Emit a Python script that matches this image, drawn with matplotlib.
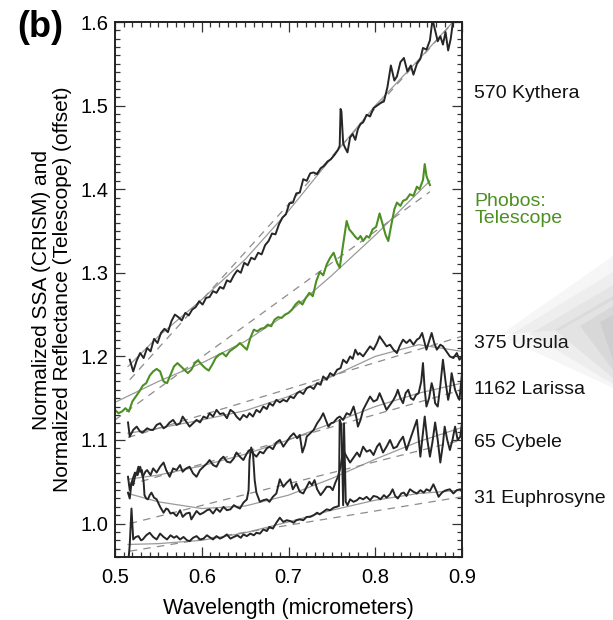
import matplotlib
matplotlib.use('Agg')
import matplotlib.pyplot as plt
from matplotlib.ticker import MultipleLocator
from matplotlib.patches import Polygon

plt.rcParams['font.family'] = ['Liberation Sans', 'DejaVu Sans']

# ---- spectra (wavelength in micrometers, offset reflectance) ----
wl_kythera = [0.517, 0.521, 0.525, 0.529, 0.533, 0.537, 0.541, 0.545, 0.549, 0.553,
              0.557, 0.561, 0.565, 0.569, 0.573, 0.577, 0.581, 0.585, 0.589, 0.593,
              0.597, 0.601, 0.605, 0.609, 0.613, 0.617, 0.621, 0.625, 0.629, 0.633,
              0.637, 0.641, 0.645, 0.649, 0.653, 0.657, 0.661, 0.665, 0.669, 0.673,
              0.677, 0.681, 0.685, 0.689, 0.693, 0.697, 0.701, 0.705, 0.709, 0.713,
              0.717, 0.721, 0.725, 0.729, 0.733, 0.737, 0.741, 0.745, 0.749, 0.753,
              0.757, 0.759, 0.760, 0.761, 0.763, 0.765, 0.768, 0.771, 0.774, 0.777,
              0.780, 0.783, 0.786, 0.790, 0.794, 0.798, 0.802, 0.806, 0.810, 0.814,
              0.818, 0.822, 0.825, 0.829, 0.833, 0.837, 0.841, 0.844, 0.848, 0.852,
              0.855, 0.859, 0.863, 0.866, 0.869, 0.872, 0.875, 0.878, 0.881, 0.884,
              0.887, 0.890, 0.893]
r_kythera = [1.196, 1.182, 1.195, 1.204, 1.198, 1.210, 1.206, 1.221, 1.216, 1.228,
             1.233, 1.229, 1.242, 1.250, 1.247, 1.243, 1.252, 1.249, 1.256, 1.259,
             1.266, 1.262, 1.270, 1.271, 1.278, 1.276, 1.283, 1.281, 1.291, 1.289,
             1.297, 1.303, 1.300, 1.312, 1.309, 1.318, 1.316, 1.324, 1.322, 1.333,
             1.338, 1.347, 1.346, 1.358, 1.366, 1.370, 1.383, 1.384, 1.395, 1.396,
             1.412, 1.410, 1.419, 1.420, 1.418, 1.425, 1.428, 1.433, 1.436, 1.441,
             1.447, 1.452, 1.496, 1.493, 1.455, 1.450, 1.444, 1.462, 1.466, 1.459,
             1.472, 1.478, 1.480, 1.489, 1.487, 1.497, 1.500, 1.503, 1.505, 1.522,
             1.548, 1.530, 1.535, 1.552, 1.557, 1.541, 1.548, 1.537, 1.550, 1.556,
             1.569, 1.567, 1.578, 1.603, 1.590, 1.577, 1.583, 1.573, 1.588, 1.566,
             1.580, 1.604, 1.610]

wl_phobos = [0.500, 0.504, 0.508, 0.512, 0.516, 0.520, 0.524, 0.528, 0.532, 0.536,
             0.540, 0.544, 0.548, 0.552, 0.556, 0.560, 0.564, 0.568, 0.572, 0.576,
             0.580, 0.584, 0.588, 0.592, 0.596, 0.600, 0.604, 0.608, 0.612, 0.616,
             0.620, 0.624, 0.628, 0.632, 0.636, 0.640, 0.644, 0.648, 0.652, 0.656,
             0.660, 0.664, 0.668, 0.672, 0.676, 0.680, 0.684, 0.688, 0.692, 0.696,
             0.700, 0.704, 0.708, 0.712, 0.716, 0.720, 0.724, 0.728, 0.732, 0.736,
             0.740, 0.744, 0.748, 0.752, 0.756, 0.759, 0.763, 0.767, 0.770, 0.774,
             0.777, 0.780, 0.783, 0.786, 0.790, 0.793, 0.797, 0.801, 0.805, 0.808,
             0.812, 0.815, 0.819, 0.822, 0.825, 0.829, 0.832, 0.836, 0.840, 0.844,
             0.848, 0.851, 0.855, 0.857, 0.859, 0.861, 0.863]
r_phobos = [1.136, 1.132, 1.134, 1.138, 1.134, 1.146, 1.152, 1.158, 1.165, 1.168,
            1.177, 1.182, 1.185, 1.182, 1.170, 1.168, 1.178, 1.188, 1.192, 1.188,
            1.184, 1.180, 1.184, 1.192, 1.195, 1.190, 1.186, 1.183, 1.190, 1.198,
            1.202, 1.204, 1.200, 1.206, 1.209, 1.212, 1.216, 1.212, 1.208, 1.222,
            1.232, 1.230, 1.233, 1.234, 1.238, 1.236, 1.244, 1.247, 1.246, 1.250,
            1.252, 1.256, 1.262, 1.266, 1.262, 1.270, 1.276, 1.272, 1.290, 1.301,
            1.297, 1.310, 1.318, 1.324, 1.312, 1.306, 1.334, 1.362, 1.352, 1.347,
            1.343, 1.340, 1.344, 1.338, 1.344, 1.342, 1.352, 1.355, 1.371, 1.360,
            1.345, 1.338, 1.360, 1.376, 1.384, 1.380, 1.386, 1.388, 1.394, 1.392,
            1.403, 1.400, 1.411, 1.430, 1.416, 1.410, 1.405]

wl_ursula = [0.515, 0.517, 0.521, 0.525, 0.529, 0.532, 0.537, 0.541, 0.544, 0.548,
             0.552, 0.556, 0.559, 0.563, 0.567, 0.571, 0.575, 0.578, 0.582, 0.586,
             0.590, 0.594, 0.598, 0.602, 0.606, 0.609, 0.613, 0.617, 0.621, 0.625,
             0.629, 0.633, 0.637, 0.640, 0.644, 0.648, 0.652, 0.655, 0.659, 0.663,
             0.667, 0.671, 0.675, 0.678, 0.682, 0.686, 0.690, 0.694, 0.698, 0.702,
             0.706, 0.710, 0.713, 0.717, 0.721, 0.725, 0.729, 0.733, 0.737, 0.740,
             0.744, 0.748, 0.752, 0.756, 0.760, 0.763, 0.767, 0.771, 0.774, 0.777,
             0.780, 0.782, 0.786, 0.790, 0.794, 0.798, 0.802, 0.805, 0.809, 0.813,
             0.817, 0.821, 0.825, 0.828, 0.832, 0.836, 0.840, 0.844, 0.848, 0.851,
             0.854, 0.857, 0.859, 0.862, 0.865, 0.868, 0.871, 0.875, 0.878, 0.882,
             0.886, 0.890, 0.894, 0.897, 0.900]
r_ursula = [1.121, 1.104, 1.112, 1.116, 1.110, 1.109, 1.114, 1.112, 1.112, 1.118,
            1.120, 1.114, 1.116, 1.121, 1.124, 1.118, 1.120, 1.128, 1.122, 1.116,
            1.120, 1.124, 1.121, 1.128, 1.126, 1.132, 1.128, 1.136, 1.131, 1.132,
            1.126, 1.136, 1.133, 1.128, 1.124, 1.130, 1.127, 1.132, 1.128, 1.136,
            1.133, 1.140, 1.137, 1.144, 1.141, 1.148, 1.145, 1.148, 1.146, 1.152,
            1.150, 1.156, 1.158, 1.155, 1.162, 1.164, 1.161, 1.168, 1.166, 1.176,
            1.172, 1.180, 1.177, 1.184, 1.186, 1.196, 1.192, 1.200, 1.197, 1.208,
            1.202, 1.204, 1.200, 1.206, 1.212, 1.208, 1.216, 1.224, 1.218, 1.212,
            1.214, 1.208, 1.204, 1.212, 1.220, 1.216, 1.220, 1.214, 1.220, 1.222,
            1.228, 1.216, 1.208, 1.218, 1.228, 1.216, 1.208, 1.214, 1.212, 1.206,
            1.200, 1.198, 1.204, 1.196, 1.200]

wl_larissa = [0.515, 0.517, 0.520, 0.523, 0.526, 0.529, 0.532, 0.535, 0.537, 0.541,
              0.544, 0.548, 0.552, 0.556, 0.559, 0.563, 0.567, 0.571, 0.575, 0.578,
              0.582, 0.586, 0.590, 0.594, 0.598, 0.602, 0.606, 0.609, 0.613, 0.617,
              0.621, 0.625, 0.629, 0.633, 0.637, 0.640, 0.644, 0.648, 0.652, 0.655,
              0.659, 0.663, 0.667, 0.671, 0.675, 0.678, 0.682, 0.686, 0.690, 0.694,
              0.698, 0.702, 0.706, 0.710, 0.713, 0.716, 0.719, 0.721, 0.725, 0.729,
              0.733, 0.737, 0.740, 0.743, 0.746, 0.749, 0.752, 0.756, 0.759, 0.763,
              0.767, 0.771, 0.775, 0.778, 0.780, 0.783, 0.786, 0.790, 0.794, 0.798,
              0.802, 0.805, 0.809, 0.813, 0.817, 0.821, 0.824, 0.826, 0.829, 0.832,
              0.835, 0.838, 0.841, 0.844, 0.847, 0.850, 0.853, 0.855, 0.857, 0.859,
              0.862, 0.865, 0.867, 0.869, 0.872, 0.875, 0.878, 0.881, 0.884, 0.886,
              0.888, 0.890, 0.892, 0.895, 0.897, 0.900]
r_larissa = [1.056, 1.040, 1.052, 1.061, 1.058, 1.068, 1.056, 1.062, 1.064, 1.058,
             1.066, 1.061, 1.068, 1.073, 1.064, 1.056, 1.066, 1.064, 1.070, 1.062,
             1.066, 1.068, 1.060, 1.056, 1.064, 1.068, 1.072, 1.076, 1.070, 1.068,
             1.076, 1.080, 1.074, 1.073, 1.078, 1.085, 1.080, 1.076, 1.084, 1.088,
             1.084, 1.080, 1.086, 1.084, 1.090, 1.092, 1.089, 1.097, 1.100, 1.092,
             1.098, 1.104, 1.108, 1.102, 1.106, 1.085, 1.094, 1.104, 1.108, 1.112,
             1.120, 1.126, 1.132, 1.124, 1.116, 1.120, 1.121, 1.126, 1.128, 1.124,
             1.132, 1.130, 1.140, 1.128, 1.116, 1.124, 1.136, 1.144, 1.152, 1.146,
             1.148, 1.156, 1.146, 1.136, 1.142, 1.148, 1.154, 1.160, 1.150, 1.144,
             1.156, 1.160, 1.150, 1.148, 1.154, 1.156, 1.170, 1.192, 1.160, 1.140,
             1.150, 1.168, 1.160, 1.144, 1.140, 1.165, 1.196, 1.170, 1.148, 1.158,
             1.180, 1.170, 1.160, 1.152, 1.148, 1.180]

wl_cybele = [0.515, 0.517, 0.519, 0.521, 0.523, 0.525, 0.527, 0.529, 0.531, 0.533,
             0.534, 0.536, 0.538, 0.540, 0.542, 0.545, 0.548, 0.552, 0.556, 0.559,
             0.561, 0.564, 0.567, 0.571, 0.575, 0.578, 0.582, 0.586, 0.588, 0.591,
             0.594, 0.598, 0.602, 0.606, 0.609, 0.613, 0.617, 0.621, 0.625, 0.629,
             0.633, 0.637, 0.640, 0.644, 0.648, 0.652, 0.654, 0.655, 0.657, 0.659,
             0.661, 0.663, 0.667, 0.671, 0.675, 0.678, 0.682, 0.686, 0.690, 0.694,
             0.698, 0.702, 0.705, 0.709, 0.713, 0.717, 0.721, 0.724, 0.727, 0.730,
             0.733, 0.737, 0.740, 0.744, 0.748, 0.751, 0.754, 0.757, 0.760, 0.763,
             0.767, 0.771, 0.775, 0.779, 0.782, 0.786, 0.790, 0.794, 0.798, 0.802,
             0.805, 0.809, 0.813, 0.817, 0.821, 0.825, 0.828, 0.832, 0.836, 0.840,
             0.844, 0.848, 0.852, 0.857, 0.860, 0.863, 0.866, 0.869, 0.872, 0.875,
             0.878, 0.880, 0.883, 0.886, 0.889, 0.892, 0.895, 0.898, 0.900]
r_cybele = [1.037, 1.030, 1.049, 1.046, 1.056, 1.060, 1.068, 1.062, 1.064, 1.050,
            1.034, 1.030, 1.029, 1.034, 1.037, 1.031, 1.029, 1.020, 1.013, 1.018,
            1.017, 1.012, 1.013, 1.009, 1.016, 1.008, 1.012, 1.013, 1.005, 1.010,
            1.015, 1.011, 1.013, 1.016, 1.017, 1.012, 1.018, 1.014, 1.020, 1.016,
            1.017, 1.022, 1.020, 1.018, 1.025, 1.029, 1.040, 1.076, 1.091, 1.085,
            1.052, 1.037, 1.026, 1.028, 1.029, 1.026, 1.032, 1.036, 1.053, 1.044,
            1.049, 1.053, 1.041, 1.048, 1.038, 1.036, 1.044, 1.050, 1.046, 1.052,
            1.041, 1.034, 1.038, 1.044, 1.044, 1.040, 1.049, 1.056, 1.068, 1.088,
            1.080, 1.073, 1.079, 1.085, 1.080, 1.092, 1.086, 1.088, 1.082, 1.092,
            1.096, 1.085, 1.092, 1.100, 1.090, 1.092, 1.098, 1.104, 1.088, 1.100,
            1.112, 1.124, 1.080, 1.128, 1.100, 1.080, 1.098, 1.121, 1.100, 1.073,
            1.095, 1.116, 1.100, 1.088, 1.100, 1.116, 1.100, 1.104, 1.121]

wl_euphrosyne = [0.514, 0.516, 0.517, 0.519, 0.521, 0.524, 0.527, 0.530, 0.532, 0.536,
                 0.540, 0.544, 0.548, 0.552, 0.556, 0.560, 0.564, 0.568, 0.571, 0.575,
                 0.579, 0.583, 0.586, 0.590, 0.594, 0.598, 0.602, 0.606, 0.610, 0.613,
                 0.617, 0.621, 0.625, 0.629, 0.633, 0.637, 0.641, 0.645, 0.648, 0.652,
                 0.656, 0.660, 0.663, 0.667, 0.671, 0.675, 0.678, 0.682, 0.686, 0.690,
                 0.694, 0.698, 0.702, 0.706, 0.709, 0.713, 0.717, 0.721, 0.725, 0.729,
                 0.733, 0.736, 0.740, 0.744, 0.748, 0.752, 0.755, 0.758, 0.759, 0.761,
                 0.763, 0.764, 0.766, 0.768, 0.771, 0.775, 0.779, 0.782, 0.786, 0.790,
                 0.794, 0.798, 0.802, 0.806, 0.810, 0.813, 0.817, 0.820, 0.823, 0.826,
                 0.830, 0.833, 0.836, 0.840, 0.844, 0.848, 0.852, 0.856, 0.859, 0.863,
                 0.867, 0.870, 0.873, 0.876, 0.878, 0.882, 0.886, 0.890, 0.894, 0.898,
                 0.900]
r_euphrosyne = [0.950, 0.962, 0.975, 1.018, 0.981, 0.984, 0.985, 0.980, 0.981, 0.986,
                0.989, 0.984, 0.981, 0.988, 0.984, 0.981, 0.986, 0.983, 0.985, 0.981,
                0.984, 0.980, 0.979, 0.983, 0.985, 0.981, 0.982, 0.986, 0.983, 0.981,
                0.985, 0.982, 0.984, 0.987, 0.982, 0.984, 0.986, 0.983, 0.987, 0.985,
                0.988, 0.986, 0.989, 0.988, 0.993, 0.991, 0.996, 0.994, 1.001, 1.007,
                1.002, 1.004, 1.003, 1.001, 1.004, 1.005, 1.004, 1.008, 1.008, 1.010,
                1.013, 1.011, 1.014, 1.017, 1.016, 1.019, 1.020, 1.021, 1.124, 1.118,
                1.022, 1.120, 1.026, 1.022, 1.029, 1.026, 1.028, 1.031, 1.029, 1.032,
                1.028, 1.033, 1.032, 1.029, 1.034, 1.031, 1.035, 1.041, 1.033, 1.030,
                1.036, 1.037, 1.033, 1.041, 1.038, 1.036, 1.040, 1.037, 1.041, 1.039,
                1.047, 1.040, 1.032, 1.036, 1.038, 1.040, 1.041, 1.036, 1.040, 1.041,
                1.038]

# ---- fitted continua (solid grey curves) ----
fit_wl = [0.515, 0.55, 0.60, 0.65, 0.70, 0.75, 0.80, 0.85, 0.90]
fit_kythera = [1.188, 1.224, 1.268, 1.316, 1.374, 1.438, 1.500, 1.555, 1.612]
fit_ursula = [1.108, 1.114, 1.124, 1.135, 1.152, 1.176, 1.200, 1.214, 1.206]
fit_larissa = [1.053, 1.058, 1.069, 1.083, 1.100, 1.120, 1.140, 1.156, 1.168]
fit_cybele = [1.036, 1.026, 1.018, 1.021, 1.034, 1.054, 1.077, 1.098, 1.115]
fit_euphrosyne = [0.975, 0.976, 0.980, 0.989, 1.002, 1.016, 1.028, 1.036, 1.040]
fit_wl_phobos = [0.50, 0.55, 0.60, 0.65, 0.70, 0.75, 0.80, 0.863]
fit_phobos = [1.145, 1.170, 1.192, 1.218, 1.252, 1.297, 1.345, 1.410]

# ---- straight-line continua (dashed), given by end points ----
dash_kythera = ([0.517, 0.890], [1.172, 1.600])
dash_phobos = ([0.500, 0.863], [1.124, 1.397])
dash_ursula = ([0.515, 0.900], [1.103, 1.224])
dash_larissa = ([0.515, 0.900], [1.046, 1.160])
dash_cybele = ([0.517, 0.900], [1.000, 1.100])
dash_euphrosyne = ([0.517, 0.900], [0.967, 1.032])

labels = ['570 Kythera', 'Phobos:\nTelescope', '375 Ursula', '1162 Larissa',
          '65 Cybele', '31 Euphrosyne']
label_y = [1.515, 1.375, 1.215, 1.160, 1.097, 1.030]

dark = '#262626'
green = '#4c8f22'
fitc = '#9a9a9a'

fig = plt.figure(figsize=(6.13, 6.20), dpi=100)

# faint grey slide swoosh on the right-hand side (pixel corners -> figure fraction)
W, H = 613.0, 620.0
swoosh = [([(500, 335), (613, 256), (613, 300), (560, 330)], 0.05),
          ([(505, 338), (613, 272), (613, 388)], 0.05),
          ([(530, 334), (613, 285), (613, 384)], 0.06),
          ([(555, 330), (613, 296), (613, 378)], 0.07),
          ([(580, 326), (613, 306), (613, 370)], 0.08),
          ([(600, 322), (613, 315), (613, 360)], 0.08)]
for pts, a in swoosh:
    fig.patches.append(Polygon([(px / W, 1 - py / H) for px, py in pts], closed=True,
                               transform=fig.transFigure, facecolor='#606060',
                               edgecolor='none', alpha=a, zorder=0))

ax = fig.add_axes([0.1876, 0.1016, 0.5661, 0.8629])

# continua first so spectra sit on top
for fw, fy in [(fit_wl, fit_kythera), (fit_wl_phobos, fit_phobos), (fit_wl, fit_ursula),
               (fit_wl, fit_larissa), (fit_wl, fit_cybele), (fit_wl, fit_euphrosyne)]:
    ax.plot(fw, fy, color=fitc, lw=0.9)
for dx, dy in [dash_kythera, dash_phobos, dash_ursula, dash_larissa, dash_cybele, dash_euphrosyne]:
    ax.plot(dx, dy, color='#8c8c8c', lw=0.9, ls=(0, (6, 5)))

for wl, r in [(wl_kythera, r_kythera), (wl_ursula, r_ursula), (wl_larissa, r_larissa),
              (wl_cybele, r_cybele), (wl_euphrosyne, r_euphrosyne)]:
    ax.plot(wl, r, color=dark, lw=1.4)
ax.plot(wl_phobos, r_phobos, color=green, lw=1.5)

ax.set_xlim(0.5, 0.9)
ax.set_ylim(0.96, 1.6)
ax.xaxis.set_major_locator(MultipleLocator(0.1))
ax.xaxis.set_minor_locator(MultipleLocator(0.01))
ax.yaxis.set_major_locator(MultipleLocator(0.1))
ax.yaxis.set_minor_locator(MultipleLocator(0.01))
ax.xaxis.set_major_formatter(plt.FuncFormatter(lambda v, p: f'{v:.1f}'))
ax.yaxis.set_major_formatter(plt.FuncFormatter(lambda v, p: f'{v:.1f}'))
ax.tick_params(which='both', direction='in', top=True, right=True, labelsize=14.5,
               color='#333333', width=0.9)
ax.tick_params(which='major', length=7)
ax.tick_params(which='minor', length=3.5)
ax.tick_params(axis='y', which='major', pad=5)
ax.tick_params(axis='x', which='major', pad=8)
for s in ax.spines.values():
    s.set_linewidth(1.4)
    s.set_color('#222222')

ax.set_xlabel('Wavelength (micrometers)', fontsize=15.5, labelpad=8)
ax.set_ylabel('Normalized SSA (CRISM) and\nNormalized Reflectance (Telescope) (offset)',
              fontsize=15, labelpad=6, linespacing=1.1)

for txt, yv in zip(labels, label_y):
    col = green if txt.startswith('Phobos') else '#111111'
    ax.text(1.035, yv, txt, transform=ax.get_yaxis_transform(), fontsize=14,
            color=col, va='center', ha='left', linespacing=1.05)

fig.text(0.028, 0.955, '(b)', fontsize=26, fontweight='bold', va='center', ha='left')

fig.savefig('out.png', dpi=100)
